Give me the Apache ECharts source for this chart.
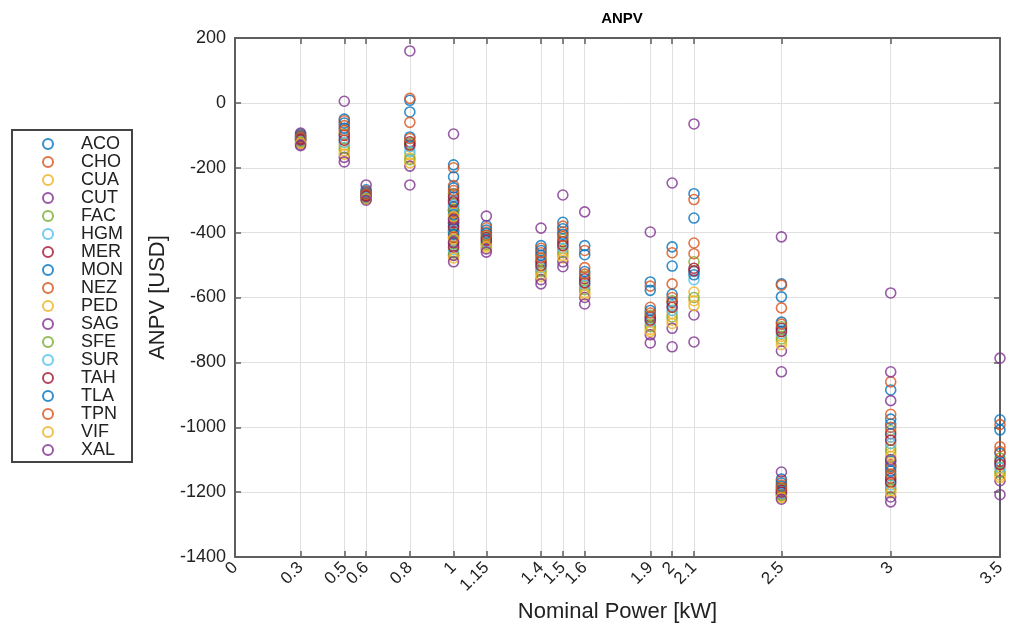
<!DOCTYPE html>
<html>
<head>
<meta charset="utf-8">
<script src="https://cdn.jsdelivr.net/npm/echarts@6/dist/echarts.min.js"></script>
<style>
html,body{margin:0;padding:0;background:#fff;}
#chart{width:1016px;height:626px;}
</style>
</head>
<body>
<div id="chart"></div>
<script>
// ---- Data ----
const categories = ['ACO','CHO','CUA','CUT','FAC','HGM','MER','MON','NEZ','PED','SAG','SFE','SUR','TAH','TLA','TPN','VIF','XAL'];
const xPositions = [0.3, 0.5, 0.6, 0.8, 1, 1, 1, 1.15, 1.4, 1.5, 1.6, 1.9, 2, 2.1, 2.5, 2.5, 3, 3, 3.5];
const xTicks = [0, 0.3, 0.5, 0.6, 0.8, 1, 1.15, 1.4, 1.5, 1.6, 1.9, 2, 2.1, 2.5, 3, 3.5];

const ACO = [-96, -50, -268, 8, -191, -300, -360, -378, -440, -368, -440, -552, -444, -280, -558, -1160, -885, -1105, -977];
const CHO = [-99, -55, -272, 14, -200, -310, -370, -385, -448, -380, -455, -565, -462, -298, -562, -1165, -860, -1115, -992];
const CUA = [-118, -130, -292, -160, -325, -400, -458, -432, -515, -455, -570, -685, -650, -583, -720, -1208, -1060, -1185, -1135];
const CUT = [-93, 5, -253, 160, -96, -280, -330, -349, -386, -284, -336, -398, -247, -65, -413, -1138, -586, -829, -787];
const FAC = [-109, -95, -284, -125, -280, -365, -425, -412, -485, -420, -535, -655, -610, -490, -690, -1190, -1010, -1150, -1095];
const HGM = [-112, -108, -287, -135, -300, -378, -440, -420, -496, -435, -550, -665, -625, -520, -700, -1198, -1030, -1165, -1110];
const MER = [-111, -100, -285, -120, -290, -370, -432, -416, -490, -428, -542, -660, -615, -510, -695, -1194, -1020, -1158, -1105];
const MON = [-101, -62, -275, -28, -228, -320, -380, -392, -455, -388, -468, -578, -503, -355, -598, -1172, -975, -1120, -1008];
const NEZ = [-103, -70, -278, -60, -255, -335, -395, -398, -462, -398, -508, -630, -558, -432, -632, -1178, -960, -1125, -1060];
const PED = [-122, -148, -295, -170, -340, -412, -470, -440, -528, -470, -585, -698, -670, -610, -735, -1214, -1080, -1196, -1148];
const SAG = [-128, -168, -292, -195, -330, -395, -470, -450, -545, -490, -600, -715, -695, -654, -765, -1205, -918, -1215, -1165];
const SFE = [-120, -140, -293, -175, -330, -405, -463, -436, -520, -462, -576, -690, -660, -600, -728, -1210, -1070, -1190, -1140];
const SUR = [-116, -122, -290, -150, -315, -392, -452, -428, -508, -448, -562, -675, -640, -545, -712, -1204, -1050, -1178, -1125];
const TAH = [-114, -115, -288, -130, -305, -385, -445, -424, -502, -440, -555, -670, -630, -518, -705, -1200, -1040, -1170, -1115];
const TLA = [-105, -78, -280, -105, -262, -345, -405, -402, -470, -405, -520, -640, -590, -530, -676, -1182, -990, -1135, -1080];
const TPN = [-107, -85, -282, -110, -270, -355, -415, -408, -478, -412, -528, -648, -600, -465, -682, -1186, -1000, -1145, -1075];
const VIF = [-125, -158, -297, -185, -350, -420, -478, -445, -535, -478, -592, -705, -680, -625, -745, -1218, -1090, -1202, -1155];
const XAL = [-132, -182, -300, -253, -360, -430, -490, -460, -558, -505, -620, -740, -752, -737, -829, -1222, -1100, -1230, -1208];

const seriesValues = [ACO, CHO, CUA, CUT, FAC, HGM, MER, MON, NEZ, PED, SAG, SFE, SUR, TAH, TLA, TPN, VIF, XAL];
const palette = ['#0072BD','#D95319','#EDB120','#7E2F8E','#77AC30','#4DBEEE','#A2142F'];

// ---- Chart ----
const FONT = 'Liberation Sans';
const axisColor = '#5f5f5f';
const gridColor = '#e0e0e0';
const textColor = '#222';

const chart = echarts.init(document.getElementById('chart'), null, {renderer: 'canvas'});

const series = categories.map((name, i) => {
  const c = palette[i % palette.length];
  return {
    name: name,
    type: 'scatter',
    symbol: 'circle',
    symbolSize: 10,
    itemStyle: {color: 'transparent', borderColor: c, borderWidth: 1.6},
    emphasis: {disabled: true},
    data: xPositions.map((x, k) => [x, seriesValues[i][k]])
  };
});

const option = {
  animation: false,
  backgroundColor: '#fff',
  textStyle: {fontFamily: FONT},
  title: {
    text: 'ANPV',
    left: 617,
    textAlign: 'center',
    top: 6,
    textStyle: {fontFamily: FONT, fontWeight: 'bold', fontSize: 15, color: '#000'}
  },
  legend: {
    orient: 'vertical',
    left: 12,
    top: 130,
    data: categories,
    selectedMode: false,
    padding: [5, 9, 3, 30],
    borderColor: '#444',
    borderWidth: 2,
    itemWidth: 50,
    itemHeight: 10,
    itemGap: 0,
    icon: 'circle',
    textStyle: {fontFamily: FONT, fontSize: 18, color: textColor, lineHeight: 14, padding: [0, 0, 0, 3]}
  },
  grid: {left: 235, right: 16, top: 38, bottom: 69, outerBoundsMode: 'none', containLabel: false},
  xAxis: [{
    type: 'value',
    min: 0,
    max: 3.5,
    position: 'bottom',
    name: 'Nominal Power [kW]',
    nameLocation: 'middle',
    nameGap: 38,
    nameTextStyle: {fontFamily: FONT, fontSize: 22, color: textColor},
    axisLine: {show: true, onZero: false, lineStyle: {color: axisColor, width: 2}},
    axisTick: {show: true, inside: true, length: 6, customValues: xTicks, lineStyle: {color: axisColor, width: 1.5}},
    axisLabel: {customValues: xTicks, rotate: 45, margin: 8, fontFamily: FONT, fontSize: 17, color: textColor,
      formatter: v => String(v)},
    splitLine: {show: true, customValues: xTicks, lineStyle: {color: gridColor, width: 1}}
  }, {
    type: 'value',
    min: 0,
    max: 3.5,
    position: 'top',
    axisLine: {show: true, onZero: false, lineStyle: {color: axisColor, width: 2}},
    axisTick: {show: true, inside: true, length: 6, customValues: xTicks, lineStyle: {color: axisColor, width: 1.5}},
    axisLabel: {show: false},
    splitLine: {show: false}
  }],
  yAxis: [{
    type: 'value',
    min: -1400,
    max: 200,
    interval: 200,
    position: 'left',
    name: 'ANPV [USD]',
    nameLocation: 'middle',
    nameGap: 59,
    nameRotate: 90,
    nameTextStyle: {fontFamily: FONT, fontSize: 22, color: textColor},
    axisLine: {show: true, onZero: false, lineStyle: {color: axisColor, width: 2}},
    axisTick: {show: true, inside: true, length: 6, lineStyle: {color: axisColor, width: 1.5}},
    axisLabel: {margin: 9, fontFamily: FONT, fontSize: 18, color: textColor, formatter: v => String(v)},
    splitLine: {show: true, lineStyle: {color: gridColor, width: 1}}
  }, {
    type: 'value',
    min: -1400,
    max: 200,
    interval: 200,
    position: 'right',
    axisLine: {show: true, onZero: false, lineStyle: {color: axisColor, width: 2}},
    axisTick: {show: true, inside: true, length: 6, lineStyle: {color: axisColor, width: 1.5}},
    axisLabel: {show: false},
    splitLine: {show: false}
  }],
  series: series
};

chart.setOption(option);
</script>
</body>
</html>
